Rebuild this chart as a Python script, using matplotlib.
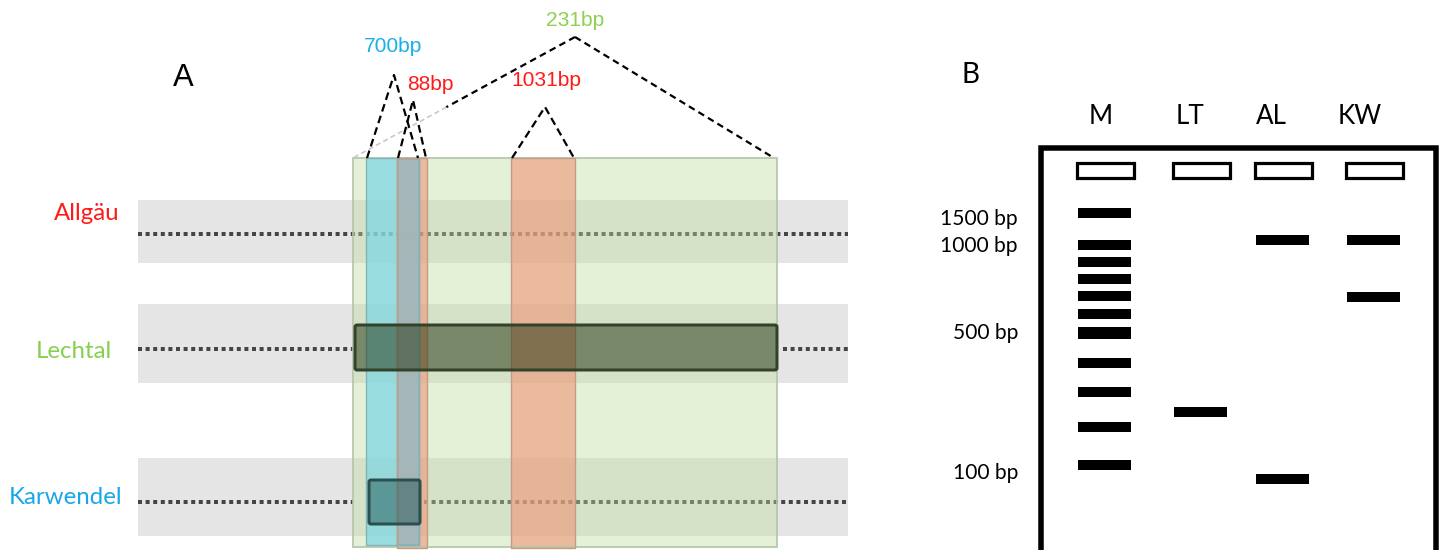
import matplotlib
matplotlib.use("Agg")
import matplotlib.pyplot as plt
from matplotlib.patches import Rectangle, FancyBboxPatch

# ---------------- data ----------------
# Panel A: populations and their deleted/amplified segments (x = position along locus)
populations = ["Allgäu", "Lechtal", "Karwendel"]
pop_colors = ["#ff1a1a", "#86d04e", "#19a7e6"]
pop_track_top = [200, 304, 458]
pop_track_bot = [263, 383, 536]
pop_line_y = [234, 349, 502]                  # dotted line of each track
pop_label_y = [213, 352, 498]
pop_label_right = [120, 112, 122]
pop_gaps = [[], [(353, 783)], [(353, 424)]]   # where the dotted line is missing
pop_boxes = [None, (355, 777, 325, 370), (369, 420, 480, 524)]  # amplified product

segments = ["231bp", "700bp", "88bp", "1031bp"]
seg_start = [353, 366, 397, 511]
seg_end = [777, 419, 427, 575]
seg_apex_x = [575, 394, 413, 545]
seg_apex_y = [37, 75, 100, 107]
seg_label_y = [20, 47, 84, 80]
seg_label_x = [575, 393, 430, 546]
seg_colors = ["#8fd14f", "#1ab0e8", "#ff1a1a", "#ff1a1a"]

# Panel B: gel
lanes = ["M", "LT", "AL", "KW"]
lane_x = [1104, 1200, 1282, 1373]
ladder_sizes = [1500, 1000, 900, 800, 700, 600, 500, 400, 300, 200, 100]
ladder_pos = [213, 245, 262, 279, 296, 314, 333, 363, 392, 427, 465]
ladder_labels = {1500: "1500 bp", 1000: "1000 bp", 500: "500 bp", 100: "100 bp"}
sample_bands = {"LT": [412], "AL": [240, 479], "KW": [240, 297]}

# ---------------- figure ----------------
W, H = 1442, 550
fig = plt.figure(figsize=(W / 100, H / 100), dpi=100)
ax = fig.add_axes([0, 0, 1, 1])
ax.set_xlim(0, W)
ax.set_ylim(H, 0)
ax.axis("off")

PX = 0.72  # points per pixel
narrow = ["Liberation Sans", "DejaVu Sans"]
humanist = ["Lato", "DejaVu Sans"]

# ---- Panel A ----
ax.text(183, 78, "A", fontsize=31 * PX, family=narrow, ha="center", va="center")

track_left, track_right = 138, 848
for name, col, t0, t1, ly, gaps, lby, lbx in zip(populations, pop_colors, pop_track_top,
                                                 pop_track_bot, pop_line_y, pop_gaps,
                                                 pop_label_y, pop_label_right):
    ax.add_patch(Rectangle((track_left, t0), track_right - track_left, t1 - t0,
                           facecolor="#e5e5e5", edgecolor="none", zorder=1))
    pieces = []
    x0 = track_left
    for g0, g1 in gaps:
        pieces.append((x0, g0))
        x0 = g1
    pieces.append((x0, track_right))
    for a, b in pieces:
        ax.plot([a, b], [ly, ly], color="#454545", lw=4 * PX,
                linestyle=(0, (1.0, 0.9)), solid_capstyle="butt", zorder=2)
    ax.text(lbx, lby, name, color=col, fontsize=24 * PX, family=humanist,
            ha="right", va="center")

region_top, region_bot = 158, 547
for lab, s, e, col in zip(segments, seg_start, seg_end, seg_colors):
    if lab == "231bp":
        ax.add_patch(Rectangle((s, region_top), e - s, region_bot - region_top,
                               facecolor=(192 / 255, 222 / 255, 155 / 255), alpha=0.4,
                               edgecolor="none", zorder=3))
        ax.add_patch(Rectangle((s, region_top), e - s, region_bot - region_top,
                               facecolor="none", edgecolor="#b4c4a8", lw=1.2, zorder=6))
    elif lab == "700bp":
        ax.add_patch(Rectangle((s, region_top), e - s, region_bot - 2 - region_top,
                               facecolor=(125 / 255, 214 / 255, 228 / 255), alpha=0.72,
                               edgecolor="none", zorder=4))
        ax.add_patch(Rectangle((s, region_top), e - s, region_bot - 2 - region_top,
                               facecolor="none", edgecolor="#7fb5b8", lw=1.0, zorder=6))
    else:
        ax.add_patch(Rectangle((s, region_top), e - s, region_bot + 1 - region_top,
                               facecolor=(240 / 255, 149 / 255, 118 / 255), alpha=0.6,
                               edgecolor="none", zorder=4))
        ax.add_patch(Rectangle((s, region_top), e - s, region_bot + 1 - region_top,
                               facecolor="none", edgecolor="#c59a86", lw=1.0, zorder=6))

# overlap of the 700bp and 88bp segments
i7, i8 = segments.index("700bp"), segments.index("88bp")
ov0, ov1 = max(seg_start[i7], seg_start[i8]), min(seg_end[i7], seg_end[i8])
ax.add_patch(Rectangle((ov0, region_top), ov1 - ov0, region_bot - 2 - region_top,
                       facecolor=(160 / 255, 183 / 255, 188 / 255), alpha=0.9,
                       edgecolor="#7f9699", lw=1.0, zorder=5))

# amplified products on the tracks
box_style = {1: ("#1e2f0c", "#33422a", 0.5), 2: ("#184848", "#2a5050", 0.45)}
for i, box in enumerate(pop_boxes):
    if box is None:
        continue
    b0, b1, y0, y1 = box
    fc, ec, al = box_style[i]
    ax.add_patch(FancyBboxPatch((b0, y0), b1 - b0, y1 - y0,
                                boxstyle="round,pad=0,rounding_size=2",
                                facecolor=fc, alpha=al, edgecolor="none", zorder=7))
    ax.add_patch(FancyBboxPatch((b0, y0), b1 - b0, y1 - y0,
                                boxstyle="round,pad=0,rounding_size=2",
                                facecolor="none", edgecolor=ec, lw=3 * PX, zorder=8))

# dashed triangles and labels
for lab, s, e, axp, ayp, lx, lyl, col in zip(segments, seg_start, seg_end, seg_apex_x,
                                             seg_apex_y, seg_label_x, seg_label_y, seg_colors):
    if lab == "231bp":
        t = 0.58
        mx, my = axp + (s - axp) * t, ayp + (region_top - ayp) * t
        ax.plot([axp, mx], [ayp, my], color="black", lw=1.6, ls=(0, (3, 2)), zorder=9)
        ax.plot([mx, s], [my, region_top], color="#c8c8c8", lw=1.2, ls=(0, (3, 2)), zorder=9)
        ax.plot([axp, e - 3], [ayp, region_top], color="black", lw=1.6, ls=(0, (3, 2)), zorder=9)
    else:
        ax.plot([s + 1, axp, e - 1], [region_top, ayp, region_top], color="black",
                lw=1.6, ls=(0, (3.5, 2)), zorder=9)
    ax.text(lx, lyl, lab, color=col, fontsize=21 * PX, family=narrow,
            ha="center", va="center", zorder=10)

# ---- Panel B ----
ax.text(971, 75, "B", fontsize=28 * PX, family=humanist, ha="center", va="center")

gel_l, gel_r, gel_t = 1040.5, 1435.5, 147.5
ax.plot([gel_l, gel_l, gel_r, gel_r], [H + 10, gel_t, gel_t, H + 10], color="black",
        lw=5.5 * PX, solid_joinstyle="miter", zorder=5, clip_on=True)

well_w, well_h = 57, 15
band_w, band_h = 53, 10
label_dx = [-3, -10, -11, -13]
for lane, x, dx in zip(lanes, lane_x, label_dx):
    ax.text(x + dx, 116, lane, fontsize=26 * PX, family=humanist, ha="center", va="center")
    ax.add_patch(Rectangle((x - well_w / 2 + 1, 170 - well_h / 2), well_w, well_h,
                           facecolor="white", edgecolor="black", lw=3.2 * PX, zorder=6))

label_dy = {1500: 6, 1000: 1, 500: 0, 100: 8}
mx = lane_x[0]
for size, yb in zip(ladder_sizes, ladder_pos):
    h = 12 if size == 500 else band_h
    ax.add_patch(Rectangle((mx - band_w / 2, yb - h / 2), band_w, h,
                           facecolor="black", edgecolor="none", zorder=6))
    if size in ladder_labels:
        ax.text(1018, yb + label_dy[size], ladder_labels[size],
                fontsize=21 * PX, family=humanist, ha="right", va="center")

for lane, ys in sample_bands.items():
    x = lane_x[lanes.index(lane)]
    for yb in ys:
        ax.add_patch(Rectangle((x - band_w / 2, yb - band_h / 2), band_w, band_h,
                               facecolor="black", edgecolor="none", zorder=6))

fig.savefig("out.png", dpi=100)
